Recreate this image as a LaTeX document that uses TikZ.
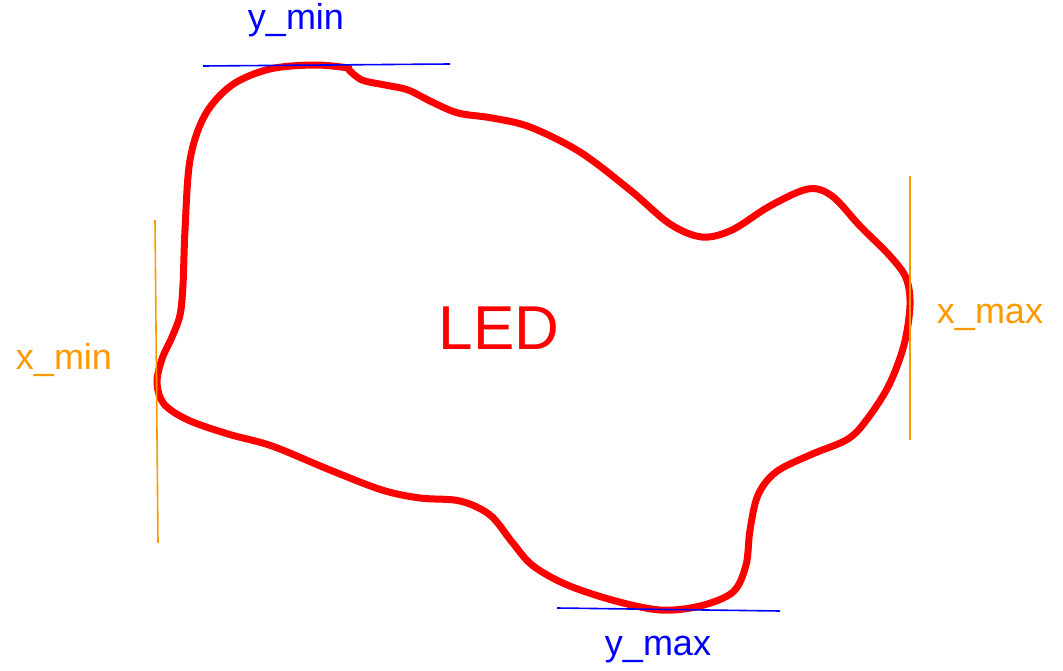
\documentclass[tikz,border=0pt]{standalone}
\usepackage{fontspec}
\setmainfont{Liberation Sans}
\usepackage{tikz}
\usepackage{xcolor}
\definecolor{ledred}{RGB}{255,0,0}
\definecolor{boxorange}{RGB}{255,153,0}
\definecolor{boxblue}{RGB}{0,0,255}

\begin{document}
\begin{tikzpicture}[
  x=1pt, y=-1pt,
  outline/.style={draw=ledred, line width=7pt, line join=round, line cap=round},
  ybound/.style={draw=boxblue, line width=1.6pt},
  xbound/.style={draw=boxorange, line width=1.6pt},
  ylab/.style={text=boxblue, font=\fontsize{36}{40}\selectfont, inner sep=0pt},
  xlab/.style={text=boxorange, font=\fontsize{36}{40}\selectfont, inner sep=0pt}
]
\useasboundingbox (0,0) rectangle (1063,671);

% the LED outline
\draw[outline] plot[smooth, tension=0.55] coordinates {
  (349,70) (362,80) (385,85) (408,90) (432,102) (458,113) (492,118) (530,127)
  (580,152) (630,190) (670,224) (702,237) (732,230) (770,206) (808,189)
  (832,196) (860,226) (890,256) (906,278) (910,305) (904,345) (889,385)
  (868,418) (848,439) (810,455) (776,472) (758,495) (750,530) (746,565)
  (733,592) (700,606) (660,610) (612,600) (565,584) (532,565) (512,542)
  (490,515) (460,501) (420,498) (382,490) (330,470) (272,446) (228,434)
  (188,420) (164,404) (157,383) (162,359) (172,337) (180,315) (183,285)
  (185,230) (190,160) (205,115) (232,85) (270,69) (315,65) (349,68)};

\node (led) at (499,328) {\textcolor{ledred}{\fontsize{62}{70}\selectfont LED}};

% bounding lines
\coordinate (ymin-a) at (203,66);  \coordinate (ymin-b) at (450,64);
\coordinate (ymax-a) at (557,608); \coordinate (ymax-b) at (780,611);
\coordinate (xmin-a) at (155,220); \coordinate (xmin-b) at (158,543);
\coordinate (xmax-a) at (910,176); \coordinate (xmax-b) at (910,440);
\draw[ybound] (ymin-a) -- (ymin-b);
\draw[ybound] (ymax-a) -- (ymax-b);
\draw[xbound] (xmin-a) -- (xmin-b);
\draw[xbound] (xmax-a) -- (xmax-b);

\node[ylab] (ymin) at (296,20) {y\_min};
\node[ylab] (ymax) at (658,650) {y\_max};
\node[xlab] (xmin) at (64,360) {x\_min};
\node[xlab] (xmax) at (990,317) {x\_max};
\end{tikzpicture}
\end{document}
